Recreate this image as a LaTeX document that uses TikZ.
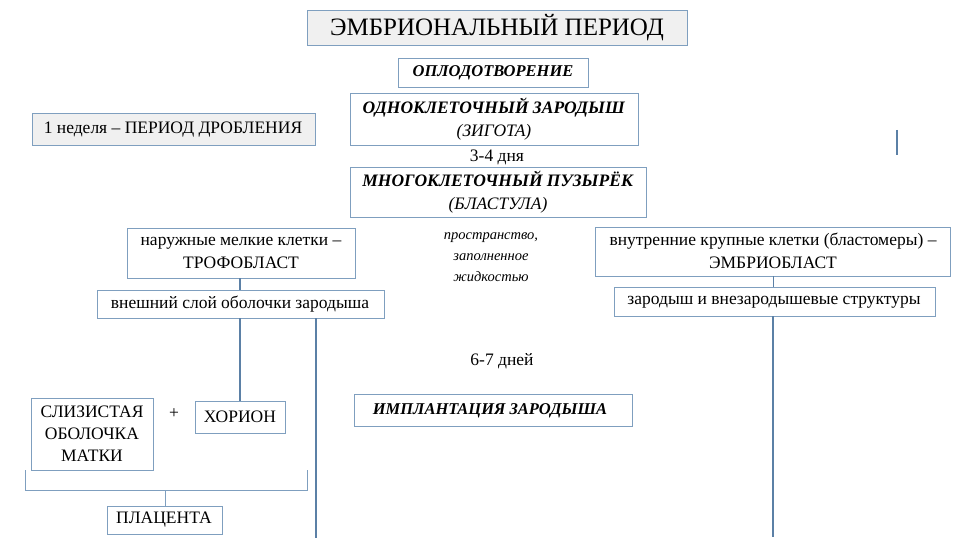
\documentclass[tikz,border=0pt]{standalone}
\usepackage{fontspec}
\setmainfont{Liberation Serif}
\begin{document}
\begin{tikzpicture}[x=1pt,y=-1pt,
  bx/.style={draw=edge,line width=0.8pt,fill=white},
  gbx/.style={draw=edge,line width=0.8pt,fill=boxgray},
  ln/.style={draw=lin,line width=1.6pt},
  tx/.style={font=\fontsize{17.5}{23}\selectfont,align=center,inner sep=0pt}]
\definecolor{edge}{HTML}{7F9FBF}
\definecolor{lin}{HTML}{5B80A6}
\definecolor{boxgray}{HTML}{F0F0F0}
\useasboundingbox (0,0) rectangle (960,540);
% boxes
\draw[gbx] (307,10) rectangle (687,45);
\node[tx,font=\fontsize{25}{28}\selectfont] (title) at (497,28) {ЭМБРИОНАЛЬНЫЙ ПЕРИОД};
\draw[bx] (398,58) rectangle (588,87);
\node[tx,font=\fontsize{16.5}{20}\selectfont\bfseries\itshape] (fert) at (493,73) {ОПЛОДОТВОРЕНИЕ};
\draw[bx] (350,93) rectangle (638,145);
\node[tx] (zyg) at (494,119) {\textbf{\textit{ОДНОКЛЕТОЧНЫЙ ЗАРОДЫШ}}\\\textit{(ЗИГОТА)}};
\draw[gbx] (32,113) rectangle (315,145);
\node[tx] (week) at (173,130) {1 неделя – ПЕРИОД ДРОБЛЕНИЯ};
\node[tx] (d34) at (497,157) {3-4 дня};
\draw[bx] (350,167) rectangle (646,217);
\node[tx] (blast) at (498,192) {\textbf{\textit{МНОГОКЛЕТОЧНЫЙ ПУЗЫРЁК}}\\\textit{(БЛАСТУЛА)}};
\draw[bx] (127,228) rectangle (355,278);
\node[tx] (troph) at (241,253) {наружные мелкие клетки –\\ТРОФОБЛАСТ};
\node[tx,font=\fontsize{14.5}{21}\selectfont\itshape] (space) at (491,257) {пространство,\\заполненное\\жидкостью};
\draw[bx] (595,227) rectangle (950,276);
\node[tx] (embr) at (773,251) {внутренние крупные клетки (бластомеры) –\\ЭМБРИОБЛАСТ};
\draw[bx] (97,290) rectangle (384,318);
\node[tx] (outer) at (240,304) {внешний слой оболочки зародыша};
\draw[bx] (614,287) rectangle (935,316);
\node[tx] (germ) at (774,302) {зародыш и внезародышевые структуры};
\node[tx] (d67) at (502,361) {6-7 дней};
\draw[bx] (31,398) rectangle (153,470);
\node[tx,font=\fontsize{17.5}{22}\selectfont] (muc) at (92,434) {СЛИЗИСТАЯ\\ОБОЛОЧКА\\МАТКИ};
\node[tx] (plus) at (174,414) {+};
\draw[bx] (195,401) rectangle (285,433);
\node[tx] (chor) at (240,417) {ХОРИОН};
\draw[bx] (354,394) rectangle (632,426);
\node[tx,font=\fontsize{16.5}{20}\selectfont\bfseries\itshape] (impl) at (490,411) {ИМПЛАНТАЦИЯ ЗАРОДЫША};
\draw[bx] (107,506) rectangle (222,534);
\node[tx] (plac) at (164,520) {ПЛАЦЕНТА};
% connectors
\draw[ln] (240,278) -- (240,290);
\draw[ln] (240,318) -- (240,401);
\draw[ln] (316,318) -- (316,538);
\draw[draw=lin,line width=0.8pt] (773,276) -- (773,287);
\draw[draw=lin,line width=1.2pt] (773,316) -- (773,537);
\draw[draw=lin,line width=1.6pt] (897,130) -- (897,155);
% brace
\draw[draw=edge,line width=0.8pt] (25,470) -- (25,490) -- (307,490) -- (307,470);
\draw[draw=edge,line width=0.8pt] (165,490) -- (165,506);
\end{tikzpicture}
\end{document}
